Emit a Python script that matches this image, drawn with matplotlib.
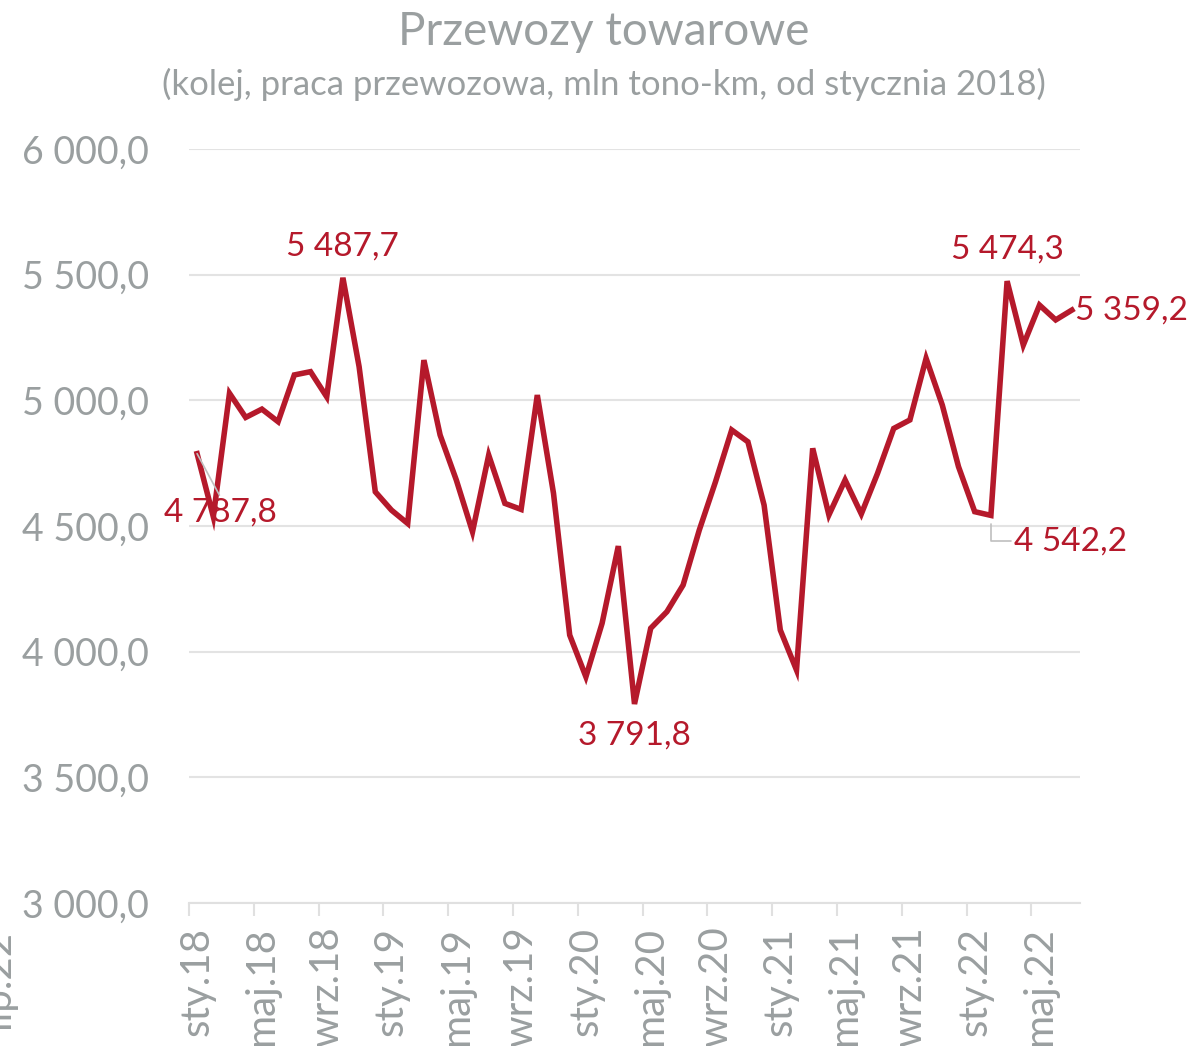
import matplotlib.pyplot as plt
import numpy as np

plt.rcParams['font.family'] = ['Lato', 'DejaVu Sans']

# miesięcznie od stycznia 2018 do lipca 2022
values = [4787.8, 4537, 5028, 4932, 4965, 4915, 5101, 5114, 5014, 5487.7,
          5134, 4636, 4563, 4510, 5160, 4862, 4683, 4477, 4782, 4590,
          4566, 5021, 4630, 4066, 3900, 4113, 4420, 3791.8, 4093, 4159,
          4265, 4484, 4676, 4882, 4835, 4583, 4086, 3927, 4809, 4544,
          4683, 4548, 4709, 4888, 4922, 5167, 4981, 4736, 4557, 4542.2,
          5474.3, 5220, 5379, 5320, 5359.2]
months = ['sty', 'lut', 'mar', 'kwi', 'maj', 'cze', 'lip', 'sie', 'wrz', 'paź', 'lis', 'gru']
labels = [f"{months[i % 12]}.{18 + i // 12}" for i in range(len(values))]
yticks = [3000, 3500, 4000, 4500, 5000, 5500, 6000]

red = '#B5192B'
grey = '#9A9FA0'

def fmt(v):
    s = f"{v:,.1f}".replace(',', ' ').replace('.', ',')
    return s

fig = plt.figure(figsize=(11.91, 10.46), dpi=100)
ax = fig.add_axes([189 / 1191, 1 - 903 / 1046, (1080 - 189) / 1191, (903 - 149) / 1046])

n = len(values)
x = np.arange(n) + 0.5
ax.plot(x, values, color=red, lw=4.0, solid_joinstyle='miter', zorder=3)

ax.set_xlim(0, n)
ax.set_ylim(3000, 6000)
ax.set_yticks(yticks)
ax.set_yticklabels([fmt(v) for v in yticks], fontsize=27, color=grey)
ax.tick_params(axis='y', length=0, pad=29)
ax.grid(axis='y', color='#E3E3E3', lw=1.5, zorder=0)

ax.set_xticks(x[::4])
ax.set_xticklabels(labels[::4], rotation=90, fontsize=29, color=grey)
ax.set_xticks(np.arange(0, n, 4), minor=True)
ax.tick_params(axis='x', which='major', length=0, pad=17)
ax.tick_params(axis='x', which='minor', length=9, width=1.5, color='#E0E0E0')

for s in ['top', 'right', 'left']:
    ax.spines[s].set_visible(False)
ax.spines['bottom'].set_color('#E0E0E0')
ax.spines['bottom'].set_linewidth(1.5)
ax.set_axisbelow(True)

# etykiety danych
lab_kw = dict(color=red, fontsize=24)
ax.annotate(fmt(values[0]), xy=(x[0], values[0]), xytext=(1.97, 4552),
            ha='center', va='center', **lab_kw,
            arrowprops=dict(arrowstyle='-', color='#BFBFBF', lw=1.2, shrinkA=0, shrinkB=0,
                            relpos=(0.5, 1.0)))
ax.annotate(fmt(values[9]), xy=(x[9], values[9]), xytext=(0, 12), textcoords='offset points',
            ha='center', va='bottom', **lab_kw)
ax.annotate(fmt(values[27]), xy=(x[27], values[27]), xytext=(0, -12), textcoords='offset points',
            ha='center', va='top', **lab_kw)
ax.annotate(fmt(values[50]), xy=(x[50], values[50]), xytext=(0, 12), textcoords='offset points',
            ha='center', va='bottom', **lab_kw)
ax.annotate(fmt(values[54]), xy=(x[54], values[54]), xytext=(2, 0), textcoords='offset points',
            ha='left', va='center', **lab_kw)
ax.annotate(fmt(values[49]), xy=(x[49], values[49]), xytext=(50.9, 4440),
            ha='left', va='center', **lab_kw,
            arrowprops=dict(arrowstyle='-', color='#BFBFBF', lw=1.2, shrinkA=0, shrinkB=6,
                            connectionstyle='angle,angleA=0,angleB=90,rad=0', relpos=(0, 0.5)))

fig.text(604 / 1191, 1 - 32 / 1046, 'Przewozy towarowe', ha='center', va='center',
         fontsize=33, color=grey)
fig.text(604 / 1191, 1 - 84 / 1046, '(kolej, praca przewozowa, mln tono-km, od stycznia 2018)',
         ha='center', va='center', fontsize=25, color=grey)
fig.text(-0.002, 1 - 930 / 1046, 'lip.22', rotation=90, ha='center', va='top',
         fontsize=29, color=grey)

fig.savefig('out.png', dpi=100)
